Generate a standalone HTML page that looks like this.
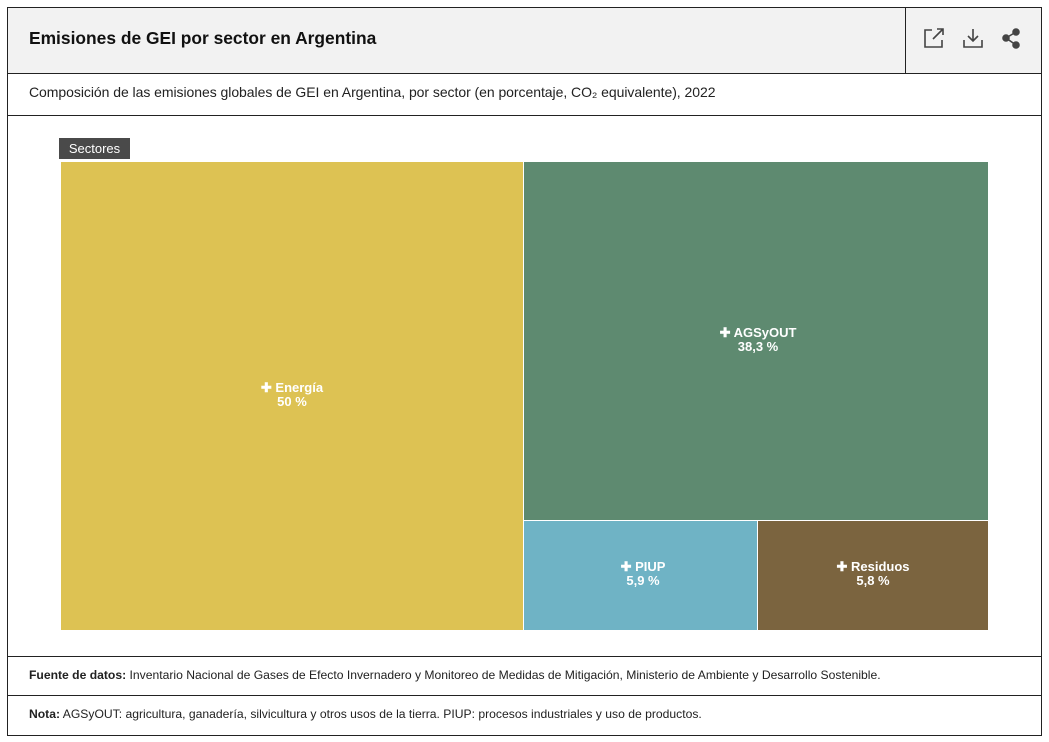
<!DOCTYPE html>
<html><head><meta charset="utf-8"><style>
body{margin:0;width:1049px;height:742px;background:#fff;font-family:"Liberation Sans",sans-serif;position:relative;overflow:hidden}
.box{position:absolute;left:7px;top:7px;width:1033px;height:727px;border:1px solid #222}
.hdr{position:absolute;left:8px;top:8px;width:1033px;height:65px;background:#f2f2f2;border-bottom:1px solid #222}
.t{position:absolute;left:29px;top:28px;font-size:17.4px;font-weight:bold;color:#111}
.vd{position:absolute;left:905px;top:8px;width:1px;height:65px;background:#222}
.sub{position:absolute;left:29px;top:84px;font-size:14px;color:#222;letter-spacing:-0.05px}
.hl{position:absolute;left:8px;width:1033px;height:1px;background:#222}
.r{position:absolute;color:#fff;font-weight:bold;font-size:13px;text-align:center;line-height:14px}
.foot{position:absolute;left:29px;font-size:12.15px;color:#222}
</style></head><body>
<div class="box"></div>
<div class="hdr"></div>
<div class="t">Emisiones de GEI por sector en Argentina</div>
<div class="vd"></div>
<svg style="position:absolute;left:920px;top:26px" width="110" height="26" fill="none" stroke="#444" stroke-width="1.6">
<path d="M12 4H5v17h17v-7"/><path d="M13 13L23 3M17 3h6v6"/>
<path d="M53 3v12M48 10l5 5 5-5M44 14v7h18v-7"/>
<circle cx="96" cy="6" r="3" fill="#444"/><circle cx="86" cy="12" r="3" fill="#444"/><circle cx="96" cy="19" r="3" fill="#444"/><path d="M96 6L86 12L96 19"/>
</svg>
<div class="sub">Composición de las emisiones globales de GEI en Argentina, por sector (en porcentaje, CO₂ equivalente), 2022</div>
<div class="hl" style="top:115px"></div>
<div style="position:absolute;left:59px;top:138px;width:71px;height:21px;background:#4a4a4a;color:#fff;font-size:13px;line-height:21px;text-align:center">Sectores</div>
<div style="position:absolute;left:61px;top:162px;width:462px;height:468px;background:#ddc253"></div>
<div style="position:absolute;left:524px;top:162px;width:464px;height:358px;background:#5e8a70"></div>
<div style="position:absolute;left:524px;top:521px;width:233px;height:109px;background:#6fb3c5"></div>
<div style="position:absolute;left:758px;top:521px;width:230px;height:109px;background:#7b643f"></div>
<div class="r" style="left:192px;top:381px;width:200px">✚ Energía<br>50 %</div>
<div class="r" style="left:658px;top:326px;width:200px">✚ AGSyOUT<br>38,3 %</div>
<div class="r" style="left:543px;top:560px;width:200px">✚ PIUP<br>5,9 %</div>
<div class="r" style="left:773px;top:560px;width:200px">✚ Residuos<br>5,8 %</div>
<div class="hl" style="top:656px"></div>
<div class="foot" style="top:668px"><b>Fuente de datos:</b> Inventario Nacional de Gases de Efecto Invernadero y Monitoreo de Medidas de Mitigación, Ministerio de Ambiente y Desarrollo Sostenible.</div>
<div class="hl" style="top:695px"></div>
<div class="foot" style="top:707px"><b>Nota:</b> AGSyOUT: agricultura, ganadería, silvicultura y otros usos de la tierra. PIUP: procesos industriales y uso de productos.</div>
</body></html>
